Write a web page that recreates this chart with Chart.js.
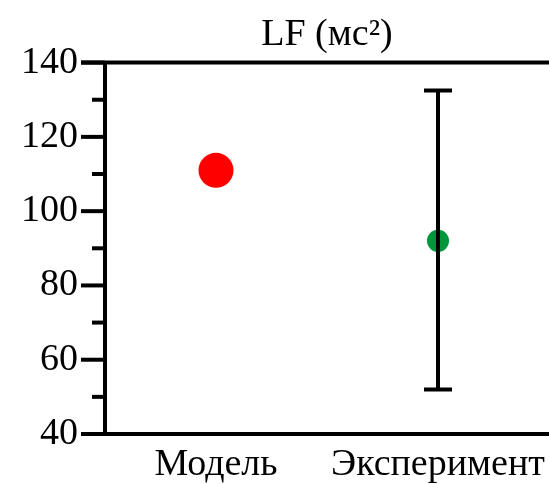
<!DOCTYPE html>
<html>
<head>
<meta charset="utf-8">
<script src="https://cdn.jsdelivr.net/npm/chart.js@4"></script>
<style>
  html, body { margin: 0; padding: 0; background: #fff; overflow: hidden; }
  #wrap { width: 549px; height: 484px; }
</style>
</head>
<body>
<div id="wrap"><canvas id="chart"></canvas></div>
<script>
const categories = ['Модель', 'Эксперимент'];
const values = [111, 92];
const errLow = [null, 52];
const errHigh = [null, 132.5];
const pointColors = ['#ff0000', '#00963c'];
const pointSizes = [17.5, 11];
const yTicks = [40, 60, 80, 100, 120, 140];

const serif = "'Liberation Serif', 'Times New Roman', serif";

// frame, ticks and error bars
const decor = {
  id: 'decor',
  afterDatasetsDraw(chart) {
    const { ctx, chartArea: a, scales: { x, y } } = chart;
    ctx.save();
    ctx.strokeStyle = '#000';
    ctx.lineWidth = 4;
    ctx.lineCap = 'butt';

    // minor / major ticks
    for (let v = 40; v <= 140; v += 10) {
      const py = y.getPixelForValue(v);
      const len = yTicks.includes(v) ? 24 : 13;
      ctx.beginPath();
      ctx.moveTo(a.left - len, py);
      ctx.lineTo(a.left, py);
      ctx.stroke();
    }

    // top and bottom lines, left axis
    ctx.beginPath();
    ctx.moveTo(a.left - 24, a.top);
    ctx.lineTo(a.right, a.top);
    ctx.moveTo(a.left - 24, a.bottom);
    ctx.lineTo(a.right, a.bottom);
    ctx.moveTo(a.left, a.top - 2);
    ctx.lineTo(a.left, a.bottom + 2);
    ctx.stroke();

    // error bars
    categories.forEach((c, i) => {
      if (errLow[i] == null) return;
      const px = x.getPixelForValue(i);
      const lo = y.getPixelForValue(errLow[i]);
      const hi = y.getPixelForValue(errHigh[i]);
      ctx.beginPath();
      ctx.moveTo(px, lo);
      ctx.lineTo(px, hi);
      ctx.moveTo(px - 14, lo);
      ctx.lineTo(px + 14, lo);
      ctx.moveTo(px - 14, hi);
      ctx.lineTo(px + 14, hi);
      ctx.stroke();
    });
    ctx.restore();
  }
};

new Chart(document.getElementById('chart'), {
  type: 'line',
  data: {
    labels: categories,
    datasets: [{
      data: values,
      showLine: false,
      clip: false,
      pointRadius: pointSizes,
      pointBackgroundColor: pointColors,
      pointBorderWidth: 0,
      pointBorderColor: pointColors,
    }],
  },
  options: {
    animation: false,
    responsive: true,
    maintainAspectRatio: false,
    layout: { padding: 0, autoPadding: false },
    plugins: {
      legend: { display: false },
      tooltip: { enabled: false },
      title: {
        display: true,
        fullSize: false,
        text: 'LF (мс²)',
        color: '#000',
        font: { family: serif, size: 38, weight: 'normal' },
        padding: { top: 12, bottom: 5 },
      },
    },
    scales: {
      x: {
        type: 'category',
        offset: true,
        border: { display: false },
        grid: { display: false, drawTicks: false },
        ticks: {
          color: '#000',
          font: { family: serif, size: 38 },
          padding: 8,
          maxRotation: 0,
          autoSkip: false,
        },
        afterFit: (s) => {
          s.height = 50;
          s.paddingLeft = 0;
          s.paddingRight = 0;
        },
      },
      y: {
        min: 40,
        max: 140,
        border: { display: false },
        grid: { display: false, drawTicks: false },
        ticks: {
          stepSize: 10,
          autoSkip: false,
          color: '#000',
          font: { family: serif, size: 38 },
          padding: 27,
          callback: (v) => (yTicks.includes(v) ? v : ''),
        },
        afterFit: (s) => {
          s.width = 105;
          s.paddingTop = 0;
          s.paddingBottom = 0;
        },
      },
    },
  },
  plugins: [decor],
});
</script>
</body>
</html>
